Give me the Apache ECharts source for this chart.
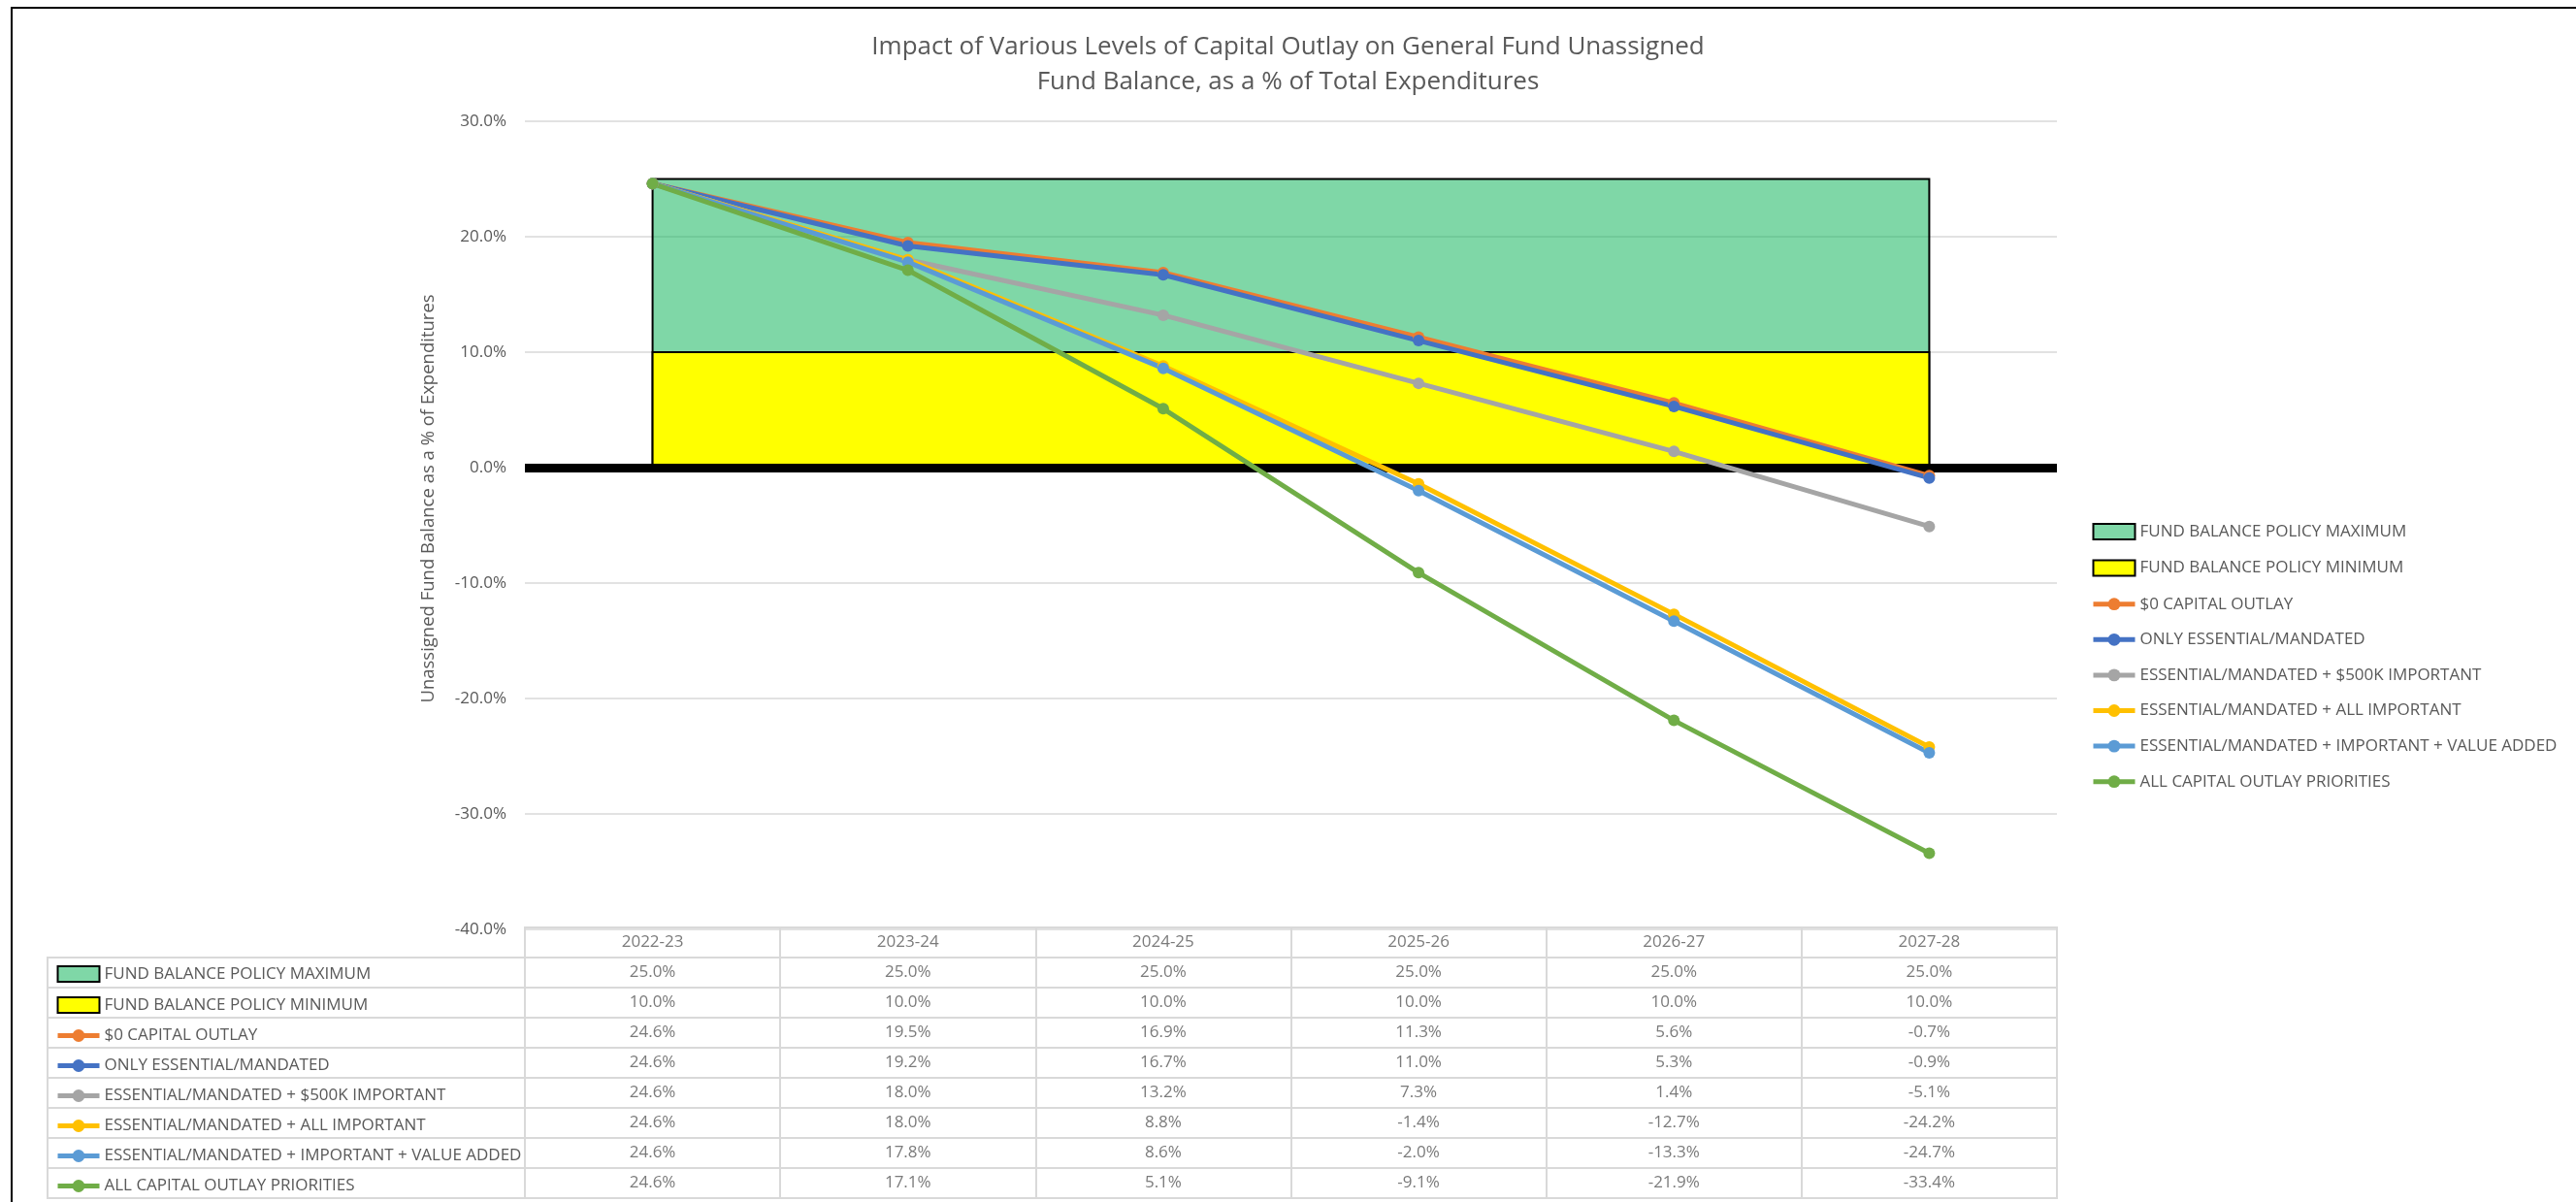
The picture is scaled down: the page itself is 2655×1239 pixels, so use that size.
<!DOCTYPE html>
<html>
<head>
<meta charset="utf-8">
<title>Capital Outlay vs Fund Balance</title>
<script src="https://cdn.jsdelivr.net/npm/echarts@6/dist/echarts.min.js"></script>
<style>
  html, body { margin: 0; padding: 0; background: #fff; }
  #chart { width: 2655px; height: 1239px; }
</style>
</head>
<body>
<div id="chart"></div>
<script>
// fiscal years (category axis + table header)
const years = ['2022-23', '2023-24', '2024-25', '2025-26', '2026-27', '2027-28'];

// policy bands, % of total expenditures
const policyMax = [25.0, 25.0, 25.0, 25.0, 25.0, 25.0];
const policyMin = [10.0, 10.0, 10.0, 10.0, 10.0, 10.0];

// scenarios, % of total expenditures
const zeroOutlay = [24.6, 19.5, 16.9, 11.3, 5.6, -0.7];
const onlyEssential = [24.6, 19.2, 16.7, 11.0, 5.3, -0.9];
const essential500k = [24.6, 18.0, 13.2, 7.3, 1.4, -5.1];
const essentialAllImportant = [24.6, 18.0, 8.8, -1.4, -12.7, -24.2];
const essentialValueAdded = [24.6, 17.8, 8.6, -2.0, -13.3, -24.7];
const allPriorities = [24.6, 17.1, 5.1, -9.1, -21.9, -33.4];

const seriesNames = [
  'FUND BALANCE POLICY MAXIMUM',
  'FUND BALANCE POLICY MINIMUM',
  '$0 CAPITAL OUTLAY',
  'ONLY ESSENTIAL/MANDATED',
  'ESSENTIAL/MANDATED + $500K IMPORTANT',
  'ESSENTIAL/MANDATED + ALL IMPORTANT',
  'ESSENTIAL/MANDATED + IMPORTANT + VALUE ADDED',
  'ALL CAPITAL OUTLAY PRIORITIES'
];
const seriesValues = [policyMax, policyMin, zeroOutlay, onlyEssential, essential500k,
  essentialAllImportant, essentialValueAdded, allPriorities];

const bandColors = ['rgba(0,176,80,0.5)', '#FFFF00'];
const lineColors = ['#ED7D31', '#4472C4', '#A5A5A5', '#FFC000', '#5B9BD5', '#70AD47'];

const FONT = '"Open Sans", "Noto Sans", sans-serif';
const TEXT = '#595959';
const GRIDLINE = '#D9D9D9';
const LINE_W = 5;

const pct = v => v.toFixed(1) + '%';

// policy band drawn as one closed polygon from the first to the last year
function bandSeries(idx) {
  const values = seriesValues[idx];
  return {
    type: 'custom',
    name: seriesNames[idx],
    xAxisIndex: 0,
    yAxisIndex: 0,
    z: 1,
    silent: true,
    itemStyle: { color: bandColors[idx], borderColor: '#000', borderWidth: 2 },
    data: values.map((v, i) => [i, v]),
    encode: { x: 0, y: 1 },
    renderItem: (params, api) => {
      if (params.dataIndex !== 0) return null;
      const last = values.length - 1;
      const pts = values.map((v, i) => api.coord([i, v]));
      pts.push(api.coord([last, 0]), api.coord([0, 0]));
      return {
        type: 'polygon',
        shape: { points: pts },
        style: { fill: bandColors[idx], stroke: '#000', lineWidth: 2 }
      };
    }
  };
}

function lineSeries(idx) {
  const color = lineColors[idx - 2];
  return {
    type: 'line',
    name: seriesNames[idx],
    xAxisIndex: 0,
    yAxisIndex: 0,
    z: 3,
    data: seriesValues[idx],
    symbol: 'circle',
    symbolSize: 12,
    lineStyle: { color, width: LINE_W },
    itemStyle: { color },
    emphasis: { disabled: true }
  };
}

// data table cells (header row + one row per series)
const tableRows = ['header'].concat(seriesNames);
const tableCells = [];
years.forEach((y, c) => tableCells.push([c, 'header', y]));
seriesValues.forEach((vals, r) => {
  vals.forEach((v, c) => tableCells.push([c, seriesNames[r], pct(v)]));
});

const legendData = seriesNames.map((name, i) => {
  if (i < 2) {
    return { name, icon: 'rect', itemStyle: { color: bandColors[i], borderColor: '#000', borderWidth: 2 } };
  }
  const color = lineColors[i - 2];
  return { name, itemStyle: { color }, lineStyle: { color, width: LINE_W } };
});

const legendBase = {
  orient: 'vertical',
  selectedMode: false,
  itemWidth: 43,
  itemHeight: 16,
  data: legendData,
  textStyle: { color: TEXT, fontSize: 17, fontFamily: FONT, lineHeight: 17 }
};

const chart = echarts.init(document.getElementById('chart'), null, { renderer: 'canvas' });

chart.setOption({
  animation: false,
  backgroundColor: '#fff',
  title: {
    text: 'Impact of Various Levels of Capital Outlay on General Fund Unassigned\nFund Balance, as a % of Total Expenditures',
    left: 'center',
    top: 26,
    textStyle: { color: TEXT, fontSize: 26, fontWeight: 'normal', fontFamily: FONT, lineHeight: 36 }
  },
  legend: [
    Object.assign({ left: 2150, top: 534, itemGap: 19.6 }, legendBase),
    Object.assign({ left: 52, top: 990, itemGap: 14 }, legendBase)
  ],
  grid: [
    { left: 541, top: 125, width: 1579, height: 833 },
    { left: 541, top: 956, width: 1579, height: 279, show: true, borderColor: GRIDLINE, borderWidth: 2 },
    { left: 49, top: 987, width: 492, height: 248, show: true, borderColor: GRIDLINE, borderWidth: 2 }
  ],
  xAxis: [
    {
      gridIndex: 0,
      type: 'category',
      data: years,
      z: 2,
      axisLabel: { show: false },
      axisTick: { show: false },
      splitLine: { show: false },
      axisLine: { show: true, onZero: true, lineStyle: { color: '#000', width: 9, cap: 'butt' } }
    },
    {
      gridIndex: 1,
      type: 'category',
      data: years,
      axisLabel: { show: false },
      axisTick: { show: false },
      axisLine: { show: false },
      splitLine: { show: true, interval: 0, lineStyle: { color: GRIDLINE, width: 2 } }
    },
    {
      gridIndex: 2,
      type: 'value',
      min: 0,
      max: 1,
      show: false
    }
  ],
  yAxis: [
    {
      gridIndex: 0,
      type: 'value',
      min: -40,
      max: 30,
      interval: 10,
      z: 0,
      axisLine: { show: false },
      axisTick: { show: false },
      axisLabel: { formatter: pct, color: TEXT, fontSize: 17, fontFamily: FONT, margin: 19 },
      splitLine: { lineStyle: { color: GRIDLINE, width: 1.5 } }
    },
    {
      gridIndex: 1,
      type: 'category',
      data: tableRows,
      inverse: true,
      axisLabel: { show: false },
      axisTick: { show: false },
      axisLine: { show: false },
      splitLine: { show: true, interval: 0, lineStyle: { color: GRIDLINE, width: 2 } }
    },
    {
      gridIndex: 2,
      type: 'category',
      data: seriesNames,
      inverse: true,
      axisLabel: { show: false },
      axisTick: { show: false },
      axisLine: { show: false },
      splitLine: { show: true, interval: 0, lineStyle: { color: GRIDLINE, width: 2 } }
    }
  ],
  graphic: [
    {
      type: 'rect',
      silent: true,
      shape: { x: 12, y: 8, width: 2700, height: 1300 },
      style: { fill: 'none', stroke: '#000', lineWidth: 2 }
    },
    {
      type: 'text',
      silent: true,
      x: 442,
      y: 514,
      rotation: Math.PI / 2,
      style: {
        text: 'Unassigned Fund Balance as a % of Expenditures',
        fill: TEXT,
        font: '18.5px ' + FONT,
        align: 'center',
        verticalAlign: 'middle',
        textAlign: 'center',
        textVerticalAlign: 'middle'
      }
    }
  ],
  series: [
    bandSeries(0),
    bandSeries(1),
    lineSeries(2),
    lineSeries(3),
    lineSeries(4),
    lineSeries(5),
    lineSeries(6),
    lineSeries(7),
    {
      type: 'scatter',
      name: 'table',
      xAxisIndex: 1,
      yAxisIndex: 1,
      silent: true,
      symbolSize: 1,
      itemStyle: { color: 'transparent' },
      data: tableCells,
      label: {
        show: true,
        position: 'inside',
        formatter: p => p.data[2],
        color: TEXT,
        fontSize: 17,
        fontFamily: FONT
      }
    }
  ]
});
</script>
</body>
</html>
